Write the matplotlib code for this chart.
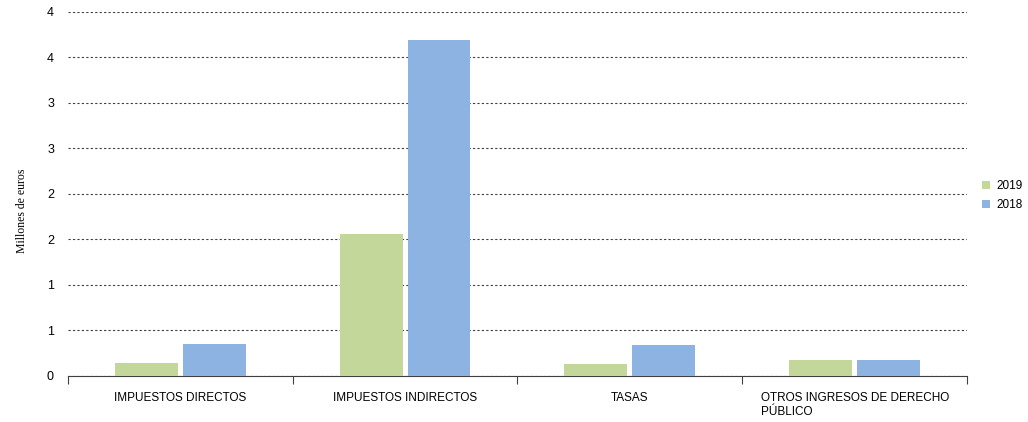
import numpy as np
import matplotlib.pyplot as plt
from matplotlib.ticker import FixedLocator

categories = ["IMPUESTOS DIRECTOS", "IMPUESTOS INDIRECTOS", "TASAS",
              "OTROS INGRESOS DE DERECHO\nPÚBLICO"]
values_2019 = [0.135, 1.56, 0.125, 0.175]
values_2018 = [0.35, 3.69, 0.34, 0.175]
y_ticks = [0, 0.5, 1, 1.5, 2, 2.5, 3, 3.5, 4]
y_labels = ["0", "1", "1", "2", "2", "3", "3", "4", "4"]

plt.rcParams['font.family'] = ['Liberation Sans', 'DejaVu Sans']

fig = plt.figure(figsize=(10.28, 4.22), dpi=100)
ax = fig.add_axes([0.066, 0.110, 0.8747, 0.8616])

x = np.arange(len(categories))
w = 0.28
gap = 0.022
ax.bar(x - (w + gap) / 2, values_2019, width=w, color="#c4d79b", label="2019", zorder=3)
ax.bar(x + (w + gap) / 2, values_2018, width=w, color="#8db3e2", label="2018", zorder=3)

ax.set_xlim(-0.5, len(categories) - 0.5)
ax.set_ylim(0, 4)
ax.set_yticks(y_ticks)
ax.set_yticklabels(y_labels, fontsize=9)
ax.tick_params(axis="y", length=0, pad=10)
ax.yaxis.grid(True, linestyle=(0, (2, 2)), color="#404040", linewidth=0.8, zorder=0)

ax.set_xticks(x)
ax.set_xticklabels(categories, fontsize=8.5, multialignment="left")
ax.tick_params(axis="x", which="major", length=0, pad=12)
ax.xaxis.set_minor_locator(FixedLocator(np.arange(-0.5, len(categories), 1)))
ax.tick_params(axis="x", which="minor", length=6, width=0.8, color="#404040", direction="out")

for s in ["top", "right", "left"]:
    ax.spines[s].set_visible(False)
ax.spines["bottom"].set_color("#404040")
ax.spines["bottom"].set_linewidth(0.8)

ax.set_ylabel("Millones de euros", fontsize=8.5, family=["Liberation Serif", "DejaVu Serif"])
ax.yaxis.set_label_coords(-0.0445, 0.452)

ax.legend(loc="center left", bbox_to_anchor=(1.005, 0.495), frameon=False, fontsize=8.5,
          handlelength=0.7, handleheight=0.7, handletextpad=0.5, labelspacing=0.6)

fig.savefig("out.png", dpi=100)
